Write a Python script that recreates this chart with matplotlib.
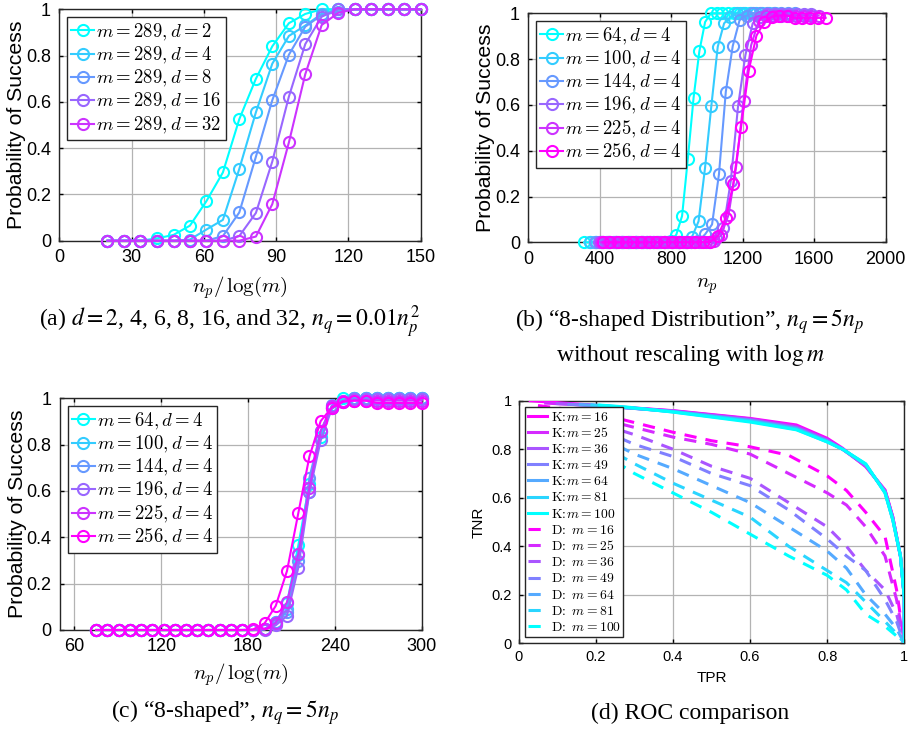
import numpy as np
import matplotlib
matplotlib.use("Agg")
import matplotlib.pyplot as plt
from matplotlib.font_manager import FontProperties

plt.rcParams['font.family'] = ['Liberation Sans', 'DejaVu Sans']
plt.rcParams['mathtext.fontset'] = 'cm'

# ---------------- data ----------------
# (a)
xa = [20.0, 26.8, 33.7, 40.5, 47.4, 54.2, 61.0, 67.9, 74.7, 81.6,
      88.4, 95.3, 102.1, 108.9, 115.8, 122.6, 129.5, 136.3, 143.2, 150.0]
d_vals = [2, 4, 8, 16, 32]
ya_d2 = [0, 0, 0, 0.01, 0.025, 0.065, 0.17, 0.295, 0.525, 0.70, 0.84, 0.94, 0.98, 1, 1, 1, 1, 1, 1, 1]
ya_d4 = [0, 0, 0, 0, 0, 0.005, 0.048, 0.09, 0.31, 0.555, 0.765, 0.885, 0.93, 0.98, 1, 1, 1, 1, 1, 1]
ya_d8 = [0, 0, 0, 0, 0, 0, 0, 0.02, 0.122, 0.363, 0.607, 0.804, 0.925, 0.975, 0.99, 1, 1, 1, 1, 1]
ya_d16 = [0, 0, 0, 0, 0, 0, 0, 0, 0.02, 0.12, 0.342, 0.623, 0.85, 0.968, 1, 1, 1, 1, 1, 1]
ya_d32 = [0, 0, 0, 0, 0, 0, 0, 0, 0, 0.018, 0.158, 0.425, 0.72, 0.932, 0.985, 1, 1, 1, 1, 1]
ya = [ya_d2, ya_d4, ya_d8, ya_d16, ya_d32]

# (b)/(c): n_p / log(m) grid, success probabilities
xc = [75.0, 82.8, 90.5, 98.3, 106.0, 113.8, 121.6, 129.3, 137.1, 144.8,
      152.6, 160.3, 168.1, 175.9, 183.6, 191.4, 199.1, 206.9, 214.7, 222.4,
      230.2, 237.9, 245.7, 253.4, 261.2, 269.0, 276.7, 284.5, 292.2, 300.0]
m_vals = [64, 100, 144, 196, 225, 256]
z14 = [0] * 14
yc_m64 = z14 + [0, 0.005, 0.033, 0.115, 0.365, 0.632, 0.835, 0.962, 1.0, 1.0, 1.0, 1.0, 1.0, 1.0, 1.0, 1.0]
yc_m100 = z14 + [0, 0.003, 0.025, 0.092, 0.323, 0.595, 0.854, 0.956, 0.985, 1.0, 1.0, 1.0, 1.0, 1.0, 1.0, 1.0]
yc_m144 = z14 + [0, 0.004, 0.035, 0.078, 0.298, 0.658, 0.857, 0.97, 0.99, 1.0, 1.0, 1.0, 1.0, 1.0, 1.0, 1.0]
yc_m196 = z14 + [0, 0.002, 0.02, 0.061, 0.269, 0.595, 0.818, 0.956, 0.985, 0.995, 0.995, 0.995, 0.995, 0.995, 0.995, 0.995]
yc_m225 = z14 + [0, 0.005, 0.03, 0.12, 0.33, 0.615, 0.86, 0.965, 0.99, 0.99, 0.99, 0.99, 0.99, 0.99, 0.99, 0.99]
yc_m256 = z14 + [0.003, 0.029, 0.104, 0.255, 0.504, 0.749, 0.902, 0.96, 0.985, 0.99, 0.99, 0.98, 0.98, 0.98, 0.98, 0.98]
yc = [yc_m64, yc_m100, yc_m144, yc_m196, yc_m225, yc_m256]

# (d) ROC curves
m_roc = [16, 25, 36, 49, 64, 81, 100]
k_tpr = [
    [0.03, 0.19, 0.40, 0.60, 0.72, 0.80, 0.84, 0.90, 0.95, 0.97, 0.99, 1.0, 1.0],
    [0.07, 0.20, 0.40, 0.60, 0.72, 0.80, 0.84, 0.90, 0.95, 0.97, 0.99, 1.0, 1.0],
    [0.10, 0.20, 0.40, 0.60, 0.72, 0.80, 0.84, 0.90, 0.95, 0.97, 0.99, 1.0, 1.0],
    [0.13, 0.22, 0.40, 0.60, 0.72, 0.80, 0.84, 0.90, 0.95, 0.97, 0.99, 1.0, 1.0],
    [0.16, 0.24, 0.40, 0.60, 0.72, 0.80, 0.84, 0.90, 0.95, 0.97, 0.99, 1.0, 1.0],
    [0.19, 0.26, 0.40, 0.60, 0.72, 0.80, 0.84, 0.90, 0.95, 0.97, 0.99, 1.0, 1.0],
    [0.21, 0.28, 0.40, 0.60, 0.72, 0.80, 0.84, 0.90, 0.95, 0.97, 0.99, 1.0, 1.0],
]
k_tnr = [
    [1.0, 0.982, 0.959, 0.927, 0.90, 0.845, 0.804, 0.728, 0.632, 0.522, 0.357, 0.19, 0.0],
    [0.99, 0.98, 0.958, 0.925, 0.895, 0.84, 0.80, 0.73, 0.63, 0.52, 0.36, 0.19, 0.0],
    [0.988, 0.98, 0.957, 0.922, 0.89, 0.838, 0.80, 0.732, 0.628, 0.52, 0.36, 0.19, 0.0],
    [0.985, 0.978, 0.956, 0.92, 0.888, 0.835, 0.80, 0.735, 0.625, 0.515, 0.36, 0.19, 0.0],
    [0.984, 0.976, 0.955, 0.918, 0.885, 0.832, 0.80, 0.737, 0.622, 0.51, 0.36, 0.19, 0.0],
    [0.983, 0.975, 0.954, 0.915, 0.882, 0.83, 0.80, 0.738, 0.62, 0.51, 0.36, 0.19, 0.0],
    [0.982, 0.974, 0.953, 0.912, 0.88, 0.83, 0.80, 0.74, 0.62, 0.51, 0.36, 0.19, 0.0],
]
d_tpr = [0.05, 0.2, 0.3, 0.4, 0.5, 0.6, 0.7, 0.8, 0.85, 0.9, 0.95, 0.98, 1.0]
d_tnr = [
    [0.98, 0.95, 0.91, 0.87, 0.835, 0.81, 0.775, 0.69, 0.63, 0.54, 0.44, 0.22, 0.0],
    [0.97, 0.93, 0.89, 0.85, 0.82, 0.78, 0.70, 0.62, 0.57, 0.48, 0.36, 0.18, 0.0],
    [0.96, 0.91, 0.86, 0.80, 0.73, 0.68, 0.58, 0.48, 0.40, 0.30, 0.22, 0.12, 0.0],
    [0.95, 0.89, 0.82, 0.77, 0.70, 0.65, 0.55, 0.43, 0.36, 0.30, 0.18, 0.09, 0.0],
    [0.93, 0.86, 0.78, 0.72, 0.65, 0.58, 0.48, 0.38, 0.31, 0.20, 0.12, 0.06, 0.0],
    [0.92, 0.83, 0.74, 0.66, 0.59, 0.52, 0.40, 0.30, 0.25, 0.17, 0.09, 0.04, 0.0],
    [0.90, 0.80, 0.70, 0.62, 0.54, 0.45, 0.36, 0.28, 0.22, 0.12, 0.07, 0.03, 0.0],
]

# ---------------- figure ----------------
fig = plt.figure(figsize=(9.1, 7.31), dpi=100)
W, H = 910.0, 731.0

def add_axes_px(l, r, t, b):
    return fig.add_axes([l / W, 1 - b / H, (r - l) / W, (b - t) / H])

def cool(t):
    return (t, 1 - t, 1.0)

def style(ax, fs, pad):
    ax.grid(True, color='#b3b3b3', linewidth=0.9)
    ax.set_axisbelow(True)
    ax.tick_params(direction='in', top=True, right=True, labelsize=fs, length=3,
                   width=1.0, pad=pad)
    for s in ax.spines.values():
        s.set_linewidth(1.0)
        s.set_color('#262626')

leg_font = FontProperties(size=13.5, math_fontfamily='cm')
cap_kw = dict(family=['Liberation Serif', 'DejaVu Serif'], math_fontfamily='stix', fontsize=17,
              ha='center', va='center')
ylab = 'Probability of Success'
yt = [0, 0.2, 0.4, 0.6, 0.8, 1]
ytl = ['0', '0.2', '0.4', '0.6', '0.8', '1']

def add_legend(ax):
    lg = ax.legend(loc='upper left', prop=leg_font, handlelength=1.2, handletextpad=0.1,
                   borderpad=0.25, labelspacing=0.12, borderaxespad=0.4, fancybox=False,
                   edgecolor='#262626', framealpha=1)
    lg.get_frame().set_linewidth(1.0)

# (a)
ax = add_axes_px(59.3, 420.7, 9.3, 240.7)
cols_a = [cool(t) for t in [0, 0.2, 0.4, 0.6, 0.8]]
for d, y, c in zip(d_vals, ya, cols_a):
    ax.plot(xa, y, '-o', color=c, lw=1.5, ms=8, mfc='none', mew=1.5,
            label=r'$m = 289, d = %d$' % d, clip_on=False, zorder=3)
ax.set_xlim(0, 150)
ax.set_ylim(0, 1)
ax.set_xticks([0, 30, 60, 90, 120, 150])
ax.set_yticks(yt)
ax.set_yticklabels(ytl)
style(ax, 13, 6)
ax.set_ylabel(ylab, fontsize=15.3, labelpad=0)
ax.set_xlabel(r'$n_p/\,\log(m)$', fontsize=15, math_fontfamily='cm', labelpad=6)
add_legend(ax)

# (b)
ax = add_axes_px(528.3, 885.7, 13.3, 242.3)
cols_b = [cool(t) for t in [0, 0.2, 0.4, 0.6, 0.8, 1.0]]
for m, y, c in zip(m_vals, yc, cols_b):
    xb = [v * np.log(m) for v in xc]
    ax.plot(xb, y, '-o', color=c, lw=1.5, ms=8, mfc='none', mew=1.5,
            label=r'$m = %d, d = 4$' % m, clip_on=False, zorder=3)
ax.set_xlim(0, 2000)
ax.set_ylim(0, 1)
ax.set_xticks([0, 400, 800, 1200, 1600, 2000])
ax.set_yticks(yt)
ax.set_yticklabels(ytl)
style(ax, 13, 6)
ax.set_ylabel(ylab, fontsize=15.3, labelpad=0)
ax.set_xlabel(r'$n_p$', fontsize=15, math_fontfamily='cm', labelpad=6)
add_legend(ax)

# (c)
ax = add_axes_px(60.0, 421.7, 398.3, 630.0)
for m, y, c in zip(m_vals, yc, cols_b):
    ax.plot(xc, y, '-o', color=c, lw=1.5, ms=8, mfc='none', mew=1.5,
            label=r'$m = %d, d = 4$' % m, clip_on=False, zorder=3)
ax.set_xlim(50, 300)
ax.set_ylim(0, 1)
ax.set_xticks([60, 120, 180, 240, 300])
ax.set_yticks(yt)
ax.set_yticklabels(ytl)
style(ax, 13, 6)
ax.set_ylabel(ylab, fontsize=15.3, labelpad=0)
ax.set_xlabel(r'$n_p/\,\log(m)$', fontsize=15, math_fontfamily='cm', labelpad=4)
add_legend(ax)

# (d)
ax = add_axes_px(518.7, 904.3, 400.7, 643.3)
cols_d = [cool(1 - i / 6.0) for i in range(7)]
handles = []
for m, xs, ys, c in zip(m_roc, k_tpr, k_tnr, cols_d):
    h, = ax.plot(xs, ys, '-', color=c, lw=2.2, label=r'$\mathrm{K\!:\!}m = %d$' % m, zorder=3)
    handles.append(h)
for m, ys, c in zip(m_roc, d_tnr, cols_d):
    h, = ax.plot(d_tpr, ys, '--', color=c, lw=2.2, dashes=(4, 3),
                 label=r'$\mathrm{D\!:}\ m = %d$' % m, zorder=2)
    handles.append(h)
ax.set_xlim(0, 1)
ax.set_ylim(0, 1)
ax.set_xticks(yt)
ax.set_xticklabels(ytl)
ax.set_yticks(yt)
ax.set_yticklabels(ytl)
style(ax, 10.5, 5)
ax.set_ylabel('TNR', fontsize=11, labelpad=4)
ax.set_xlabel('TPR', fontsize=11, labelpad=5)
lg = ax.legend(handles=handles, loc='upper left',
               prop=FontProperties(size=9.8, math_fontfamily='cm'),
               handlelength=1.4, handletextpad=0.3, borderpad=0.2, labelspacing=0.16,
               borderaxespad=0.45, fancybox=False, edgecolor='#262626', framealpha=1)
lg.get_frame().set_linewidth(1.0)

# captions
fig.text(230 / W, 1 - 322 / H, r'(a) $d = 2$, 4, 6, 8, 16, and 32, $n_q = 0.01n_p^2$', **cap_kw)
fig.text(690 / W, 1 - 322 / H, r'(b) “8-shaped Distribution”, $n_q = 5n_p$', **cap_kw)
fig.text(690 / W, 1 - 355 / H, r'without rescaling with $\log m$', **cap_kw)
fig.text(225 / W, 1 - 713 / H, r'(c) “8-shaped”, $n_q = 5n_p$', **cap_kw)
fig.text(690 / W, 1 - 713 / H, r'(d) ROC comparison', **cap_kw)

fig.savefig('out.png', dpi=100)
